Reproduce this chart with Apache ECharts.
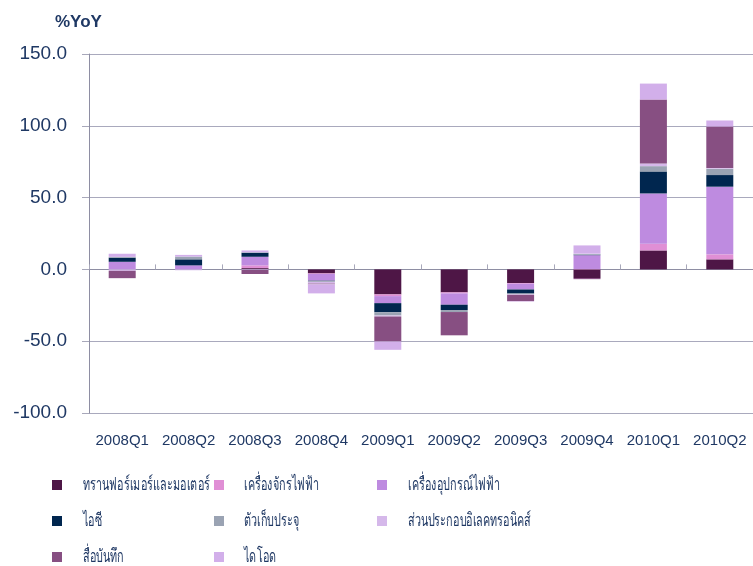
<!DOCTYPE html>
<html>
<head>
<meta charset="utf-8">
<script src="https://cdn.jsdelivr.net/npm/echarts@6/dist/echarts.min.js"></script>
<style>
    html, body { margin: 0; padding: 0; background: #ffffff; }
    #chart { width: 753px; height: 566px; }
</style>
</head>
<body>
<div id="chart"></div>
<script>
    // หมวดหมู่ (ไตรมาส)
    const categories = ['2008Q1', '2008Q2', '2008Q3', '2008Q4', '2009Q1', '2009Q2', '2009Q3', '2009Q4', '2010Q1', '2010Q2'];
    const yTicks = [-100, -50, 0, 50, 100, 150];

    // ค่าของแต่ละกลุ่มสินค้า (%YoY)
    const transformer = [0, 0, 0.9, -2.8, -17.4, -16.0, -9.5, -6.0, 13.2, 7.0];
    const machinery = [0, 0, 1.9, -0.4, -1.2, -0.7, -0.5, 0.3, 4.7, 3.5];
    const appliances = [5.3, 2.8, 6.0, -4.6, -4.9, -7.9, -4.0, 9.6, 35.0, 47.1];
    const ic = [2.8, 4.2, 2.8, -0.2, -6.3, -3.7, -2.8, 0.3, 15.3, 8.1];
    const capacitor = [0.6, 1.9, 0.3, -0.7, -2.3, -1.4, -0.5, 0.5, 3.7, 4.4];
    const elecParts = [-1.0, -0.6, -0.4, -1.2, -0.7, 0, -0.4, 0.5, 1.9, 0.5];
    const media = [-5.1, 0, -2.8, -0.5, -17.4, -16.2, -4.4, -0.8, 44.5, 28.9];
    const diode = [2.2, 1.2, 1.3, -6.3, -5.8, 0, -0.3, 5.5, 11.1, 4.2];

    const names = ['ทรานฟอร์เมอร์และมอเตอร์', 'เครื่องจักรไฟฟ้า', 'เครื่องอุปกรณ์ไฟฟ้า', 'ไอซี', 'ตัวเก็บประจุ', 'ส่วนประกอบอิเลคทรอนิคส์', 'สื่อบันทึก', 'ไดโอด'];
    const values = [transformer, machinery, appliances, ic, capacitor, elecParts, media, diode];
    const colors = ['#4E1646', '#E08FD5', '#BE8BE0', '#00264F', '#9AA3B3', '#D5B8EA', '#874F82', '#D2AFEA'];

    const navy = '#1F3864';
    const font = '"Liberation Sans", Arial, sans-serif';

    const chart = echarts.init(document.getElementById('chart'));

    const series = names.map(function (name, i) {
        return {
            name: name,
            type: 'bar',
            stack: 'total',
            barWidth: 27,
            xAxisIndex: 0,
            itemStyle: {
                color: colors[i]
            },
            emphasis: { disabled: true },
            data: values[i]
        };
    });

    // legend วางเป็น 3 คอลัมน์: ไอคอนจาก legend, ข้อความภาษาไทยแบบแคบ (ฟอนต์ต้นฉบับเป็นแบบ condensed)
    const legendLeft = [52, 214, 377];
    const legendMid = [485, 521, 557];
    const textLeft = [83, 244, 408];
    const legends = names.map(function (name, i) {
        return {
            orient: 'horizontal',
            left: legendLeft[i % 3],
            top: legendMid[Math.floor(i / 3)] - 5,
            padding: 0,
            itemWidth: 10,
            itemHeight: 10,
            icon: 'rect',
            selectedMode: false,
            data: [name],
            formatter: function () { return ''; },
            textStyle: { fontSize: 8 }
        };
    });
    const legendTexts = names.map(function (name, i) {
        return {
            type: 'text',
            x: textLeft[i % 3],
            y: legendMid[Math.floor(i / 3)],
            scaleX: 0.6,
            silent: true,
            style: {
                text: name,
                fill: navy,
                fontSize: 18,
                fontFamily: 'sans-serif',
                verticalAlign: 'middle'
            }
        };
    });

    chart.setOption({
        backgroundColor: '#ffffff',
        animation: false,
        title: {
            text: '%YoY',
            left: 50,
            top: 9,
            textStyle: {
                color: navy,
                fontSize: 17,
                fontWeight: 'bold',
                fontFamily: font
            }
        },
        legend: legends,
        graphic: legendTexts,
        grid: {
            left: 89,
            top: 54,
            width: 667,
            height: 359
        },
        xAxis: [{
            type: 'category',
            data: categories,
            position: 'bottom',
            axisLine: { show: false, onZero: false },
            axisTick: { show: false },
            axisLabel: {
                color: navy,
                fontSize: 15,
                fontFamily: font,
                margin: 20,
                interval: 0
            }
        }, {
            type: 'category',
            data: categories,
            axisLine: { onZero: true, lineStyle: { color: '#8E8EA3', width: 1 } },
            axisTick: { show: true, length: 5, interval: 0, lineStyle: { color: '#A8A8BA' } },
            axisLabel: { show: false }
        }],
        yAxis: {
            type: 'value',
            min: yTicks[0],
            max: yTicks[yTicks.length - 1],
            interval: 50,
            axisLine: { show: true, lineStyle: { color: '#8E8EA3' } },
            axisTick: { show: true, length: 7, lineStyle: { color: '#A8A8BA' } },
            splitLine: { lineStyle: { color: '#A9A9BD' } },
            axisLabel: {
                color: navy,
                fontSize: 19,
                fontFamily: font,
                margin: 22,
                formatter: function (v) { return v.toFixed(1); }
            }
        },
        series: series
    });
</script>
</body>
</html>
